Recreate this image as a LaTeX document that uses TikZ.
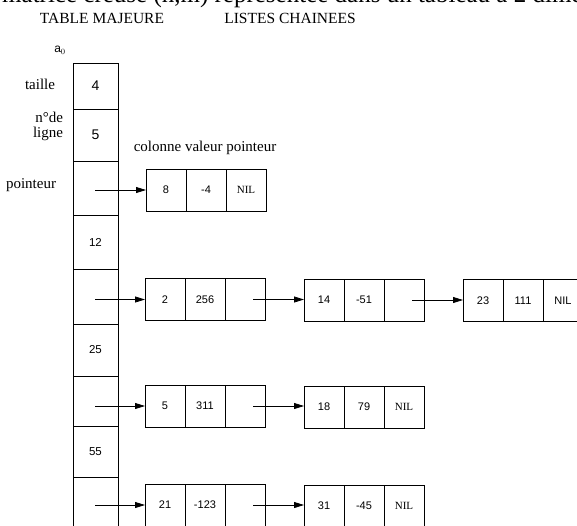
\documentclass[tikz,border=0pt]{standalone}
\usepackage{fontspec}
\setmainfont{Liberation Serif}
\setsansfont{Liberation Sans}
\usetikzlibrary{arrows.meta,calc,positioning}

\begin{document}
\begin{tikzpicture}[x=1pt, y=-1pt, >={Triangle[length=10pt,width=6pt]},
    cell/.style={draw, line width=.6pt, outer sep=0pt, inner sep=0pt,
      minimum width=45pt, font=\sffamily\fontsize{11.5}{12}\selectfont},
    elem/.style={draw, line width=.6pt, outer sep=0pt, inner sep=0pt,
      minimum width=40pt, minimum height=42pt,
      font=\sffamily\fontsize{11}{12}\selectfont},
    lbl/.style={align=right, font=\fontsize{15}{15}\selectfont},
    link/.style={->, line width=.8pt}]

    \useasboundingbox (0,0) rectangle (577,525);
    \clip (0,0) rectangle (577,525);

    % Titles (the line above is cut by the page)
    \node [anchor=base west, inner sep=0pt, font=\fontsize{25}{25}\selectfont]
      (intro) at (2,2.5) {matrice creuse (n,m) représentée dans un tableau à 2 dimensions};
    \node [font=\fontsize{15.5}{16}\selectfont] (major) at (102,18) {TABLE MAJEURE};
    \node [font=\fontsize{15.5}{16}\selectfont] (lists) at (290,18) {LISTES CHAINEES};

    % First draw the major table
    \foreach \n/\t/\b/\v in {t1/63/109/{\fontsize{14}{14}\selectfont 4},
        t2/109/161/{\fontsize{14}{14}\selectfont 5},
        t3/161/215/{}, t4/215/269/12, t5/269/324/{}, t6/324/376/25,
        t7/376/426/{}, t8/426/477/55, t9/477/530/{}}
      \node [cell, minimum height={\b-\t}] (\n) at (95.5, {(\t+\b)/2}) {\v};

    \node [font=\sffamily\fontsize{12}{12}\selectfont] (a0) at (60,50) {a$_0$};
    \node [lbl] (taille) at (40,84) {taille};
    \node [lbl] (ligne) at (48,126) {n°de\\ligne};
    \node [lbl] (ptr) at (31,185) {pointeur};
    \node [font=\fontsize{15}{15}\selectfont] (head) at (205,148) {colonne valeur pointeur};

    % Next, the linked lists
    \foreach \n/\x/\y/\a/\b/\c in {l1/146/190/8/-4/{\rmfamily NIL},
        l2/145/299.5/2/256/{}, l3/304/300/14/-51/{}, l4/463/300.5/23/111/NIL,
        l5/145/406/5/311/{}, l6/304/407/18/79/{\rmfamily NIL},
        l7/145/505/21/-123/{}, l8/304/506/31/-45/{\rmfamily NIL}} {
      \node [elem, anchor=west] (\n a) at (\x,\y) {\a};
      \node [elem, right=0pt of \n a] (\n b) {\b};
      \node [elem, right=0pt of \n b] (\n c) {\c};
    }

    % Define a few points
    \coordinate (p1) at (95,190);
    \coordinate (p2) at (95,299.5);
    \coordinate (p3) at (95,406);
    \coordinate (p4) at (95,505);
    \foreach \q in {l2, l3, l5, l7}
      \coordinate (\q q) at ($ (\q c.center) + (8,0) $);

    \draw[link] (p1) -- (l1a.west);
    \draw[link] (p2) -- (l2a.west);
    \draw[link] (p3) -- (l5a.west);
    \draw[link] (p4) -- (l7a.west);
    \draw[link] (l2q) -- (l2q -| l3a.west);
    \draw[link] (l3q) -- (l3q -| l4a.west);
    \draw[link] (l5q) -- (l5q -| l6a.west);
    \draw[link] (l7q) -- (l7q -| l8a.west);
\end{tikzpicture}
\end{document}
